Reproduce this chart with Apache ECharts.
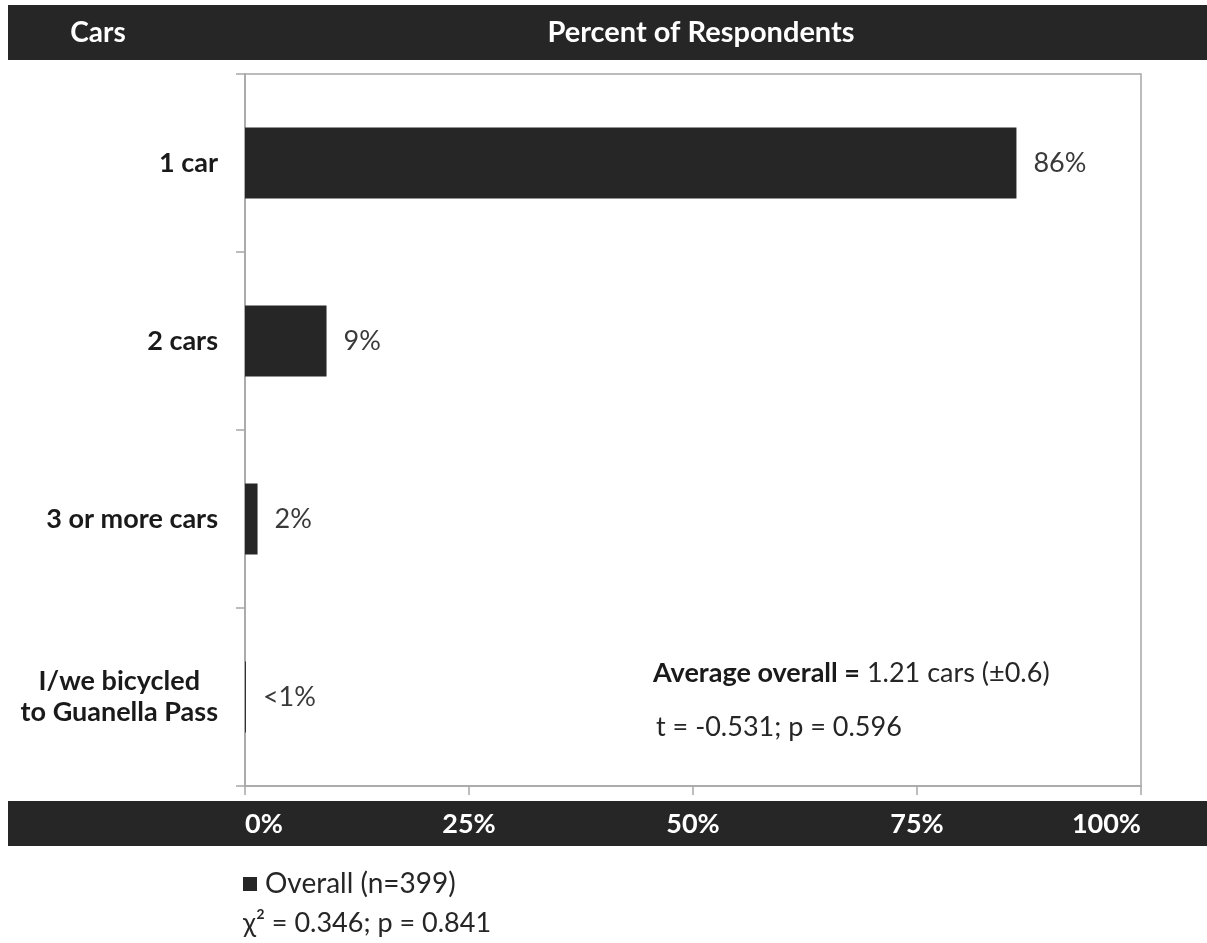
<!DOCTYPE html>
<html>
<head>
<meta charset="utf-8">
<script src="https://cdn.jsdelivr.net/npm/echarts@6/dist/echarts.min.js"></script>
<style>
html,body{margin:0;padding:0;background:#fff;}
#c{width:1207px;height:943px;}
</style>
</head>
<body>
<div id="c"></div>
<script>
const categories = ['1 car', '2 cars', '3 or more cars', 'I/we bicycled\nto Guanella Pass'];
const values = [86.1, 9.1, 1.4, 0.1];
const valueLabels = ['86%', '9%', '2%', '<1%'];
const xTicks = [0, 25, 50, 75, 100];
const seriesName = 'Overall (n=399)';
const headerLeft = 'Cars';
const headerRight = 'Percent of Respondents';
const avgBold = 'Average overall =';
const avgText = ' 1.21 cars (±0.6)';
const tTest = 't = -0.531; p = 0.596';
const chiTest = 'χ² = 0.346; p = 0.841';

const FONT = 'Lato, "Open Sans", sans-serif';
const chart = echarts.init(document.getElementById('c'));
chart.setOption({
  backgroundColor: '#ffffff',
  animation: false,
  textStyle: { fontFamily: FONT },
  grid: { left: 245, right: 66, top: 74, bottom: 157, show: true, borderColor: '#a6a6a6', borderWidth: 1.5 },
  legend: {
    data: [seriesName], left: 238, top: 865, icon: 'rect', itemWidth: 14, itemHeight: 14, itemGap: 6,
    textStyle: { fontSize: 28, color: '#262626', fontFamily: FONT, padding: [0, 0, 0, 3] }
  },
  xAxis: {
    type: 'value', min: xTicks[0], max: xTicks[xTicks.length - 1], interval: 25, z: 10,
    splitLine: { show: false },
    axisLine: { show: true, lineStyle: { color: '#a6a6a6', width: 1.5 } },
    axisTick: { show: true, length: 9, lineStyle: { color: '#a6a6a6', width: 1.5 } },
    axisLabel: {
      margin: 25, fontSize: 27, fontWeight: 'bold', color: '#ffffff', fontFamily: FONT,
      formatter: v => v + '%', alignMinLabel: 'left', alignMaxLabel: 'right'
    }
  },
  yAxis: {
    type: 'category', data: categories, inverse: true,
    axisLine: { show: true, lineStyle: { color: '#a6a6a6', width: 1.5 } },
    axisTick: { show: true, length: 9, lineStyle: { color: '#a6a6a6', width: 1.5 } },
    axisLabel: {
      margin: 27, fontSize: 27, fontWeight: 'bold', color: '#1a1a1a', fontFamily: FONT,
      formatter: v => v.split('\n').map(s => '{c|' + s + '}').join('\n'),
      rich: { c: { align: 'center', fontSize: 27, fontWeight: 'bold', color: '#1a1a1a', fontFamily: FONT, lineHeight: 31 } }
    }
  },
  series: [{
    name: seriesName, type: 'bar', data: values, barWidth: '40%',
    itemStyle: { color: '#262626' },
    label: {
      show: true, position: 'right', distance: 17, fontSize: 27, color: '#3a3a3a', fontFamily: FONT,
      formatter: p => valueLabels[p.dataIndex]
    }
  }],
  graphic: [
    { type: 'rect', z: -1, shape: { x: 8, y: 5, width: 1199, height: 55 }, style: { fill: '#262626' } },
    { type: 'rect', z: -1, shape: { x: 8, y: 801, width: 1199, height: 45 }, style: { fill: '#262626' } },
    { type: 'text', style: { x: 98, y: 33, text: headerLeft, fill: '#ffffff', font: 'bold 28px ' + FONT, align: 'center', verticalAlign: 'middle' } },
    { type: 'text', style: { x: 701, y: 33, text: headerRight, fill: '#ffffff', font: 'bold 29px ' + FONT, align: 'center', verticalAlign: 'middle' } },
    { type: 'text', style: { x: 653, y: 673, text: '{b|' + avgBold + '}' + avgText, fill: '#262626', font: '27px ' + FONT, verticalAlign: 'middle',
      rich: { b: { fontWeight: 'bold', fontSize: 27, fill: '#1a1a1a', fontFamily: FONT } } } },
    { type: 'text', style: { x: 656, y: 727, text: tTest, fill: '#262626', font: '27px ' + FONT, verticalAlign: 'middle' } },
    { type: 'text', style: { x: 243, y: 923, text: chiTest, fill: '#262626', font: '27px ' + FONT, verticalAlign: 'middle' } }
  ]
});
</script>
</body>
</html>
